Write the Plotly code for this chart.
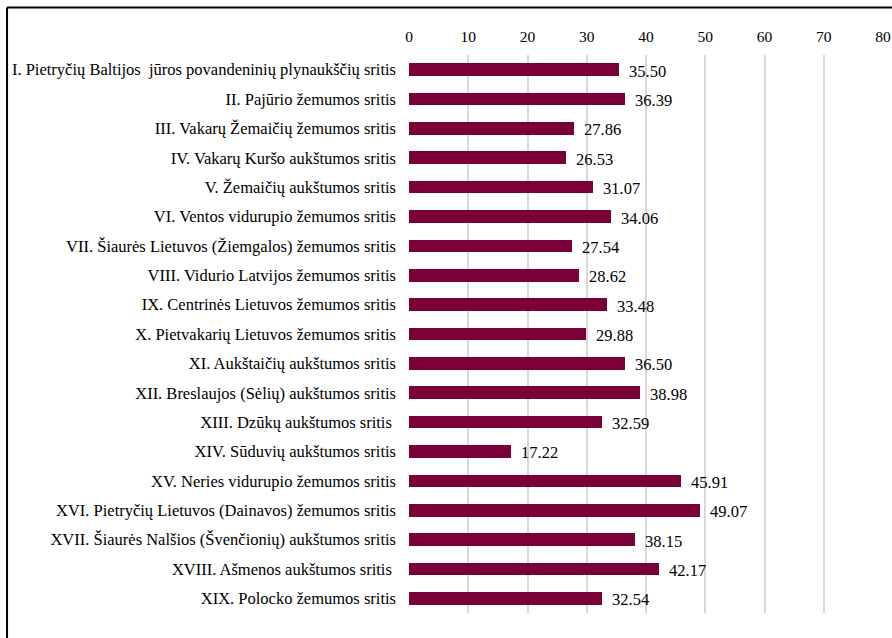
import plotly.graph_objects as go

categories = [
    "I. Pietryčių Baltijos  jūros povandeninių plynaukščių sritis",
    "II. Pajūrio žemumos sritis",
    "III. Vakarų Žemaičių žemumos sritis",
    "IV. Vakarų Kuršo aukštumos sritis",
    "V. Žemaičių aukštumos sritis",
    "VI. Ventos vidurupio žemumos sritis",
    "VII. Šiaurės Lietuvos (Žiemgalos) žemumos sritis",
    "VIII. Vidurio Latvijos žemumos sritis",
    "IX. Centrinės Lietuvos žemumos sritis",
    "X. Pietvakarių Lietuvos žemumos sritis",
    "XI. Aukštaičių aukštumos sritis",
    "XII. Breslaujos (Sėlių) aukštumos sritis",
    "XIII. Dzūkų aukštumos sritis ",
    "XIV. Sūduvių aukštumos sritis",
    "XV. Neries vidurupio žemumos sritis",
    "XVI. Pietryčių Lietuvos (Dainavos) žemumos sritis",
    "XVII. Šiaurės Nalšios (Švenčionių) aukštumos sritis",
    "XVIII. Ašmenos aukštumos sritis ",
    "XIX. Polocko žemumos sritis",
]
values = [35.50, 36.39, 27.86, 26.53, 31.07, 34.06, 27.54, 28.62, 33.48, 29.88,
          36.50, 38.98, 32.59, 17.22, 45.91, 49.07, 38.15, 42.17, 32.54]
x_ticks = [0, 10, 20, 30, 40, 50, 60, 70, 80]

FONT = "Liberation Serif"
BAR_COLOR = "#7A0038"

fig = go.Figure(go.Bar(
    y=categories,
    x=values,
    orientation="h",
    width=0.43,
    marker=dict(color=BAR_COLOR, line=dict(width=0)),
    hoverinfo="x+y",
))

# value labels to the right of each bar
for cat, v in zip(categories, values):
    fig.add_annotation(
        x=v, y=cat, text=f"{v:.2f}", xref="x", yref="y",
        xanchor="left", yanchor="middle", xshift=8, yshift=-1.5,
        showarrow=False, font=dict(family=FONT, size=16.5, color="#000000"),
    )

# outer frame (left and top edges visible)
frame = dict(color="#000000", width=2)
fig.add_shape(type="line", xref="paper", yref="paper",
              x0=-0.848, x1=-0.848, y0=1.085, y1=-0.2, line=frame)
fig.add_shape(type="line", xref="paper", yref="paper",
              x0=-0.848, x1=1.1, y0=1.085, y1=1.085, line=frame)

fig.update_layout(
    width=892, height=638,
    margin=dict(l=409, r=9, t=55, b=25, autoexpand=False),
    paper_bgcolor="#ffffff", plot_bgcolor="#ffffff",
    font=dict(family=FONT, size=16, color="#000000"),
    showlegend=False,
    bargap=0,
    xaxis=dict(
        side="top", range=[0, 80], tickvals=x_ticks,
        showgrid=True, gridcolor="#D9D9D9", gridwidth=1.5,
        zeroline=False, showline=False, ticks="",
        tickfont=dict(family=FONT, size=15.5, color="#000000"),
        ticklabelstandoff=9, fixedrange=True, automargin=False,
    ),
    yaxis=dict(
        autorange="reversed", showgrid=False, zeroline=False,
        showline=False, ticks="",
        tickfont=dict(family=FONT, size=16.5, color="#000000"),
        ticklabelstandoff=12, automargin=False,
    ),
)

fig.write_html("out.html")
